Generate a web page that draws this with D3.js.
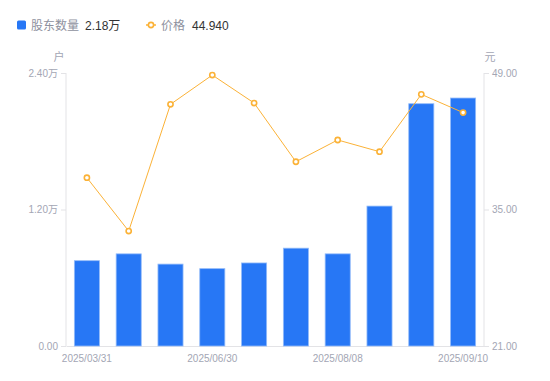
<!DOCTYPE html>
<html>
<head>
<meta charset="utf-8">
<script src="https://cdn.jsdelivr.net/npm/d3@7"></script>
<style>
	body { margin: 0; background: #fff; }
	svg { display: block; font-family: "Liberation Sans", Arial, "Noto Sans CJK SC", sans-serif; }
</style>
</head>
<body>
<div id="chart"></div>
<script>
// chart data
const dates = ["2025/03/31", "2025/04/10", "2025/05/20", "2025/06/30", "2025/07/10",
	"2025/07/20", "2025/08/08", "2025/08/20", "2025/08/31", "2025/09/10"];
const holders = [0.75, 0.81, 0.72, 0.68, 0.73, 0.86, 0.81, 1.23, 2.13, 2.18]; // 万户
const prices = [38.26, 32.79, 45.79, 48.79, 45.92, 39.90, 42.13, 40.93, 46.81, 44.94]; // 元
const holderTicks = [0, 1.2, 2.4];
const priceTicks = [21, 35, 49];
const shownDates = ["2025/03/31", "2025/06/30", "2025/08/08", "2025/09/10"];

const W = 550, H = 381,
	m = {left: 66, right: 66, top: 73, bottom: 35},
	blue = "#2777f5",
	orange = "#fbb237",
	gray = "#a3a6b4",
	axisColor = "#e3e3e6";

const svg = d3.select("#chart").append("svg")
	.attr("width", W)
	.attr("height", H);

// scales
const x = d3.scaleBand().domain(dates).range([m.left, W - m.right]).paddingInner(0.4).paddingOuter(0.2),
	yL = d3.scaleLinear().domain([0, 2.4]).range([H - m.bottom, m.top]),
	yR = d3.scaleLinear().domain([21, 49]).range([H - m.bottom, m.top]);

// axes
const leftAxis = svg.append("g")
	.attr("transform", `translate(${m.left},0)`)
	.call(d3.axisLeft(yL).tickValues(holderTicks).tickSize(5).tickPadding(3)
		.tickFormat(d => d === 0 ? "0.00" : d3.format(".2f")(d) + "万"));

const rightAxis = svg.append("g")
	.attr("transform", `translate(${W - m.right},0)`)
	.call(d3.axisRight(yR).tickValues(priceTicks).tickSize(5).tickPadding(3)
		.tickFormat(d3.format(".2f")));

const bottomAxis = svg.append("g")
	.attr("transform", `translate(0,${H - m.bottom})`)
	.call(d3.axisBottom(x).tickValues(shownDates).tickSize(0).tickPadding(9));

[leftAxis, rightAxis, bottomAxis].forEach(g => {
	g.select(".domain").attr("stroke", axisColor);
	g.selectAll(".tick line").attr("stroke", axisColor);
	g.selectAll(".tick text")
		.attr("fill", gray)
		.attr("font-size", 10)
		.attr("font-family", "'Liberation Sans', Arial, 'Noto Sans CJK SC', sans-serif");
});
// domain ends flush with plot area
leftAxis.select(".domain").attr("d", `M0,${m.top}V${H - m.bottom}`);
rightAxis.select(".domain").attr("d", `M0,${m.top}V${H - m.bottom}`);

// unit labels
svg.append("text")
	.attr("x", 59).attr("y", 61)
	.attr("text-anchor", "middle")
	.attr("fill", gray).attr("font-size", 11)
	.text("户");
svg.append("text")
	.attr("x", 490).attr("y", 61)
	.attr("text-anchor", "middle")
	.attr("fill", gray).attr("font-size", 11)
	.text("元");

// bars
svg.append("g").selectAll("rect")
	.data(holders)
	.join("rect")
	.attr("x", (d, i) => x(dates[i]))
	.attr("y", d => yL(d))
	.attr("width", x.bandwidth())
	.attr("height", d => yL(0) - yL(d))
	.attr("fill", blue)
	.attr("stroke", "#93bbf9")
	.attr("stroke-width", 0.8);

// price line
const cx = i => x(dates[i]) + x.bandwidth() / 2;
svg.append("path")
	.datum(prices)
	.attr("fill", "none")
	.attr("stroke", orange)
	.attr("stroke-width", 1)
	.attr("d", d3.line().x((d, i) => cx(i)).y(d => yR(d)));

svg.append("g").selectAll("circle")
	.data(prices)
	.join("circle")
	.attr("cx", (d, i) => cx(i))
	.attr("cy", d => yR(d))
	.attr("r", 2.6)
	.attr("fill", "#fff")
	.attr("stroke", orange)
	.attr("stroke-width", 1.6);

// legend
const legend = svg.append("g").attr("font-size", 12);
legend.append("rect")
	.attr("x", 17).attr("y", 20.5)
	.attr("width", 9).attr("height", 9)
	.attr("rx", 1.5)
	.attr("fill", blue);
legend.append("text").attr("x", 31).attr("y", 29.5).attr("fill", "#8e919e").text("股东数量");
legend.append("text").attr("x", 85).attr("y", 29.5).attr("fill", "#333").text(d3.format(".2f")(holders[holders.length - 1]) + "万");

legend.append("line")
	.attr("x1", 146).attr("x2", 156)
	.attr("y1", 25).attr("y2", 25)
	.attr("stroke", orange).attr("stroke-width", 1.5);
legend.append("circle")
	.attr("cx", 151).attr("cy", 25).attr("r", 2.6)
	.attr("fill", "#fff").attr("stroke", orange).attr("stroke-width", 1.6);
legend.append("text").attr("x", 161).attr("y", 29.5).attr("fill", "#8e919e").text("价格");
legend.append("text").attr("x", 192).attr("y", 29.5).attr("fill", "#333").text(d3.format(".3f")(prices[prices.length - 1]));
</script>
</body>
</html>
